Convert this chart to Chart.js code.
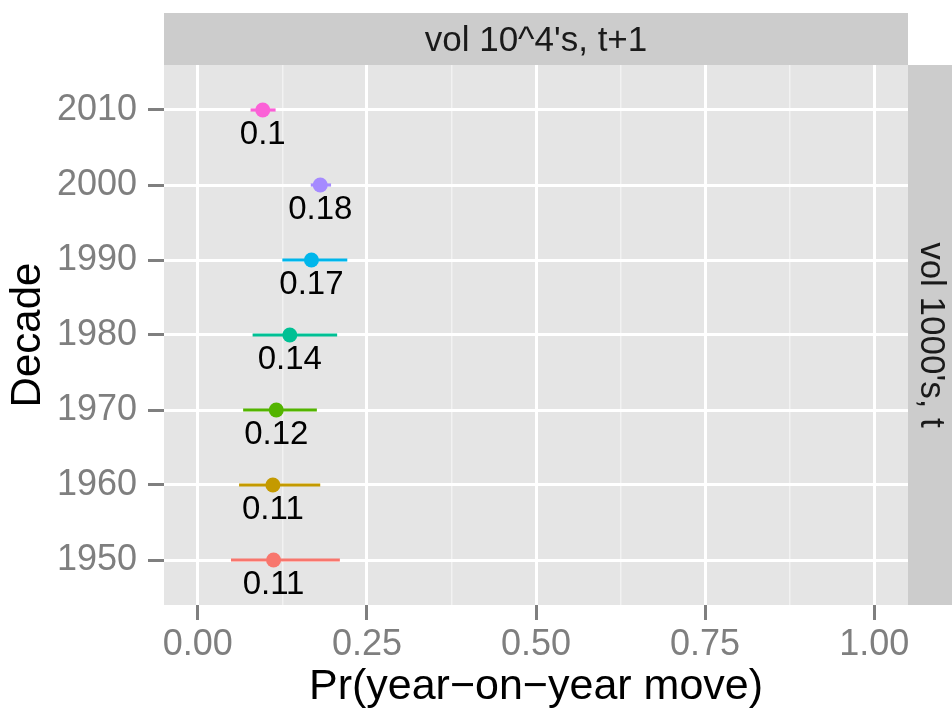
<!DOCTYPE html>
<html lang="en">
<head>
<meta charset="UTF-8">
<title>Pr(year-on-year move) by decade</title>
<script src="https://cdn.jsdelivr.net/npm/chart.js"></script>
<style>
  body { margin: 0; background: #fff; }
  #wrap { width: 952px; height: 713px; }
</style>
</head>
<body>
<div id="wrap"><canvas id="myChart"></canvas></div>

<script>
// data (bottom to top)
const decades  = ['1950', '1960', '1970', '1980', '1990', '2000', '2010'];
const estimate = [0.112, 0.111, 0.116, 0.136, 0.168, 0.181, 0.096];
const lower    = [0.049, 0.061, 0.067, 0.081, 0.125, 0.167, 0.078];
const upper    = [0.210, 0.181, 0.176, 0.206, 0.221, 0.197, 0.115];
const colors   = ['#F8766D', '#C49A00', '#53B400', '#00C094', '#00B6EB', '#A58AFF', '#FB61D7'];
const xTicks   = [0, 0.125, 0.25, 0.375, 0.5, 0.625, 0.75, 0.875, 1];
const stripTop   = "vol 10^4's, t+1";
const stripRight = "vol 1000's, t";

const FONT = '"Liberation Sans", Arial, sans-serif';
const isMajor = v => Math.abs(v * 4 - Math.round(v * 4)) < 1e-6;

// points first so they sit on top of the bars
const datasets = [{
  type: 'scatter',
  data: estimate.map((v, i) => ({ x: v, y: i })),
  pointBackgroundColor: colors,
  pointBorderWidth: 0,
  pointRadius: 7.5
}];
decades.forEach((d, i) => {
  datasets.push({
    type: 'line',
    data: [{ x: lower[i], y: i }, { x: upper[i], y: i }],
    borderColor: colors[i],
    borderWidth: 3.2,
    pointRadius: 0
  });
});

// grey panel + facet strips
const panel = {
  id: 'panel',
  beforeDraw(chart) {
    const { ctx, chartArea: a } = chart;
    ctx.save();
    ctx.fillStyle = '#E5E5E5';
    ctx.fillRect(a.left, a.top, a.right - a.left, a.bottom - a.top);
    ctx.fillStyle = '#CCCCCC';
    ctx.fillRect(a.left, 13, a.right - a.left, a.top - 13);
    ctx.fillRect(a.right, a.top, chart.width - a.right, a.bottom - a.top);
    ctx.fillStyle = '#1A1A1A';
    ctx.font = '35px ' + FONT;
    ctx.textAlign = 'center';
    ctx.textBaseline = 'middle';
    ctx.fillText(stripTop, (a.left + a.right) / 2, (13 + a.top) / 2 + 2);
    ctx.translate((a.right + chart.width) / 2 + 1, (a.top + a.bottom) / 2);
    ctx.rotate(Math.PI / 2);
    ctx.fillText(stripRight, 0, 0);
    ctx.restore();
  }
};

// value labels under each point
const valueLabels = {
  id: 'valueLabels',
  afterDatasetsDraw(chart) {
    const { ctx, scales } = chart;
    ctx.save();
    ctx.fillStyle = '#000';
    ctx.font = '33px ' + FONT;
    ctx.textAlign = 'center';
    ctx.textBaseline = 'middle';
    estimate.forEach((v, i) => {
      const px = scales.x.getPixelForValue(v);
      const py = scales.y.getPixelForValue(i);
      ctx.fillText(String(Math.round(v * 100) / 100), px, py + 25);
    });
    ctx.restore();
  }
};

new Chart(document.getElementById('myChart'), {
  type: 'scatter',
  data: { datasets },
  plugins: [panel, valueLabels],
  options: {
    responsive: true,
    maintainAspectRatio: false,
    animation: false,
    layout: { padding: { top: 65, right: 44, left: 0, bottom: 0 } },
    plugins: { legend: { display: false }, tooltip: { enabled: false } },
    scales: {
      x: {
        type: 'linear',
        min: -0.05,
        max: 1.05,
        afterBuildTicks: s => { s.ticks = xTicks.map(v => ({ value: v })); },
        afterFit: s => { s.height = 108; },
        border: { display: false },
        grid: {
          color: c => isMajor(c.tick.value) ? '#FFFFFF' : '#F2F2F2',
          lineWidth: c => isMajor(c.tick.value) ? 3 : 1.5,
          tickColor: c => isMajor(c.tick.value) ? '#7F7F7F' : 'rgba(0,0,0,0)',
          tickWidth: 3,
          tickLength: 15
        },
        ticks: {
          color: '#7F7F7F',
          font: { family: FONT, size: 36 },
          padding: 3,
          maxRotation: 0,
          autoSkip: false,
          callback: v => isMajor(v) ? v.toFixed(2) : ''
        },
        title: {
          display: true,
          text: 'Pr(year\u2212on\u2212year move)',
          color: '#000',
          font: { family: FONT, size: 43 },
          padding: { top: 0, bottom: 0 }
        }
      },
      y: {
        type: 'linear',
        min: -0.6,
        max: 6.6,
        afterBuildTicks: s => { s.ticks = decades.map((d, i) => ({ value: i })); },
        afterFit: s => { s.width = 164; },
        border: { display: false },
        grid: {
          color: '#FFFFFF',
          lineWidth: 3,
          tickColor: '#7F7F7F',
          tickWidth: 3,
          tickLength: 16
        },
        ticks: {
          color: '#7F7F7F',
          font: { family: FONT, size: 36 },
          padding: 11,
          autoSkip: false,
          callback: v => decades[v]
        },
        title: {
          display: true,
          text: 'Decade',
          color: '#000',
          font: { family: FONT, size: 42 },
          padding: { top: 3, bottom: 0 }
        }
      }
    }
  }
});
</script>
</body>
</html>
